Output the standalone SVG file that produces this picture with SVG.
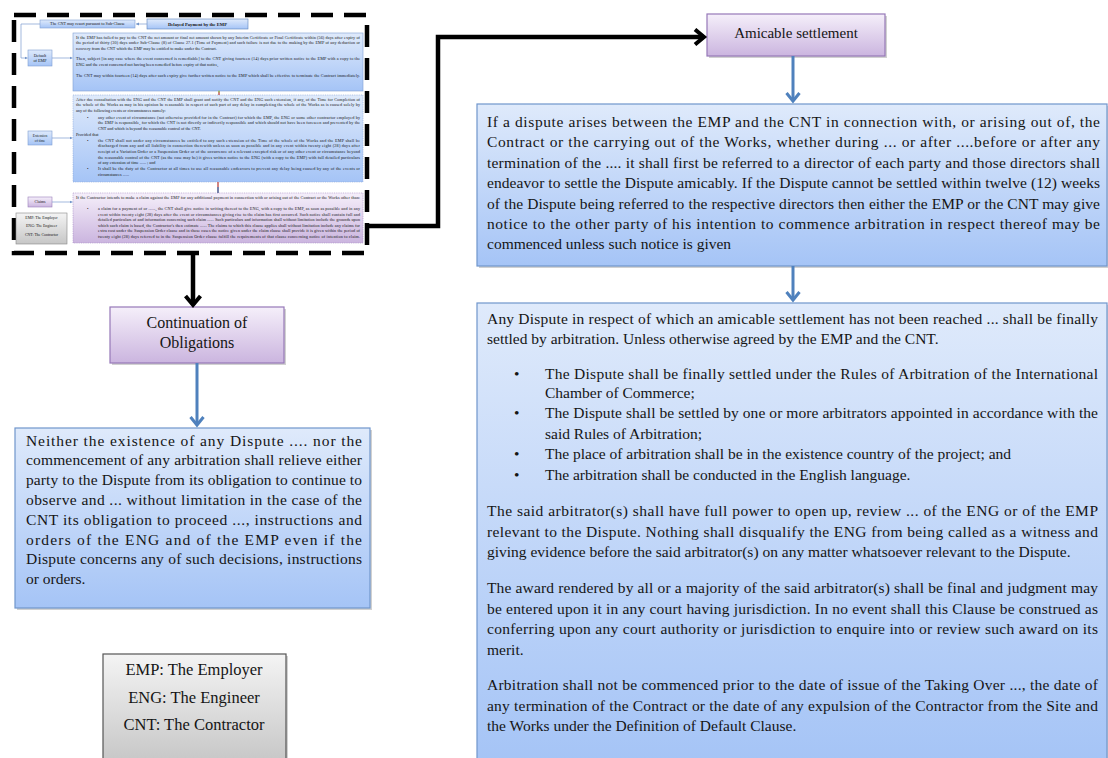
<svg xmlns="http://www.w3.org/2000/svg" width="1108" height="758" viewBox="0 0 1108 758" font-family="'Liberation Serif', 'Times New Roman', 'DejaVu Serif', serif">
<style>
.t{fill:#151515}
.m{font-size:15.5px}
.s{font-size:4.2px}
.c{text-anchor:middle}
.bb{fill:url(#gb);stroke:#7096cc;stroke-width:1.2}
.pb{fill:url(#gp);stroke:#9678b8;stroke-width:1.2}
.bbs{fill:url(#gb);stroke:#7f9fd2;stroke-width:0.6}
.bbd{fill:url(#gb);stroke:#8aa6d6;stroke-width:0.6;stroke-dasharray:1 0.8}
.pbd{fill:url(#gp);stroke:#a58ac4;stroke-width:0.6;stroke-dasharray:1 0.8}
.pbs{fill:url(#gp);stroke:#9a7fbb;stroke-width:0.6}
.gy{fill:url(#gg);stroke:#555;stroke-width:1.2}
.sh{fill:#000;opacity:0.18}
.kl{fill:none;stroke:#000;stroke-width:4.5}
.bl{fill:none;stroke:#4f81bd;stroke-width:3}
.tl{fill:none;stroke:#7b9bd0;stroke-width:0.7}
</style>
<defs>
<linearGradient id="gb" x1="0" y1="0" x2="0" y2="1"><stop offset="0" stop-color="#dfeafb"/><stop offset="1" stop-color="#a5c4f6"/></linearGradient>
<linearGradient id="gp" x1="0" y1="0" x2="0" y2="1"><stop offset="0" stop-color="#f5effa"/><stop offset="1" stop-color="#cbb5df"/></linearGradient>
<linearGradient id="gg" x1="0" y1="0" x2="0" y2="1"><stop offset="0" stop-color="#f4f4f4"/><stop offset="1" stop-color="#c6c6c6"/></linearGradient>
<marker id="ak" markerWidth="16" markerHeight="18" refX="12" refY="9" orient="auto" markerUnits="userSpaceOnUse"><path d="M3,1.5 L12,9 L3,16.5" fill="none" stroke="#000" stroke-width="4"/></marker>
<marker id="ablu" markerWidth="16" markerHeight="16" refX="12" refY="8" orient="auto" markerUnits="userSpaceOnUse"><path d="M4,1.5 L12,8 L4,14.5" fill="none" stroke="#4f81bd" stroke-width="3"/></marker>
<marker id="at" markerWidth="4" markerHeight="4" refX="3" refY="2" orient="auto" markerUnits="userSpaceOnUse"><path d="M0,0.5 L3,2 L0,3.5 Z" fill="#6f93c9"/></marker>
</defs>

<g id="thumb-frame">
<rect x="14" y="15" width="353" height="238" fill="none" stroke="#000" stroke-width="4.5" stroke-dasharray="22 11"/>
</g>

<g id="t-resort">
<rect class="bbs" x="40" y="20" width="95" height="8"/>
<text class="t s c" x="87.5" y="25.4">The CNT may resort pursuant to Sub-Clause</text>
</g>
<g id="t-delayed">
<rect class="bbs" x="147" y="19" width="101" height="10" style="stroke:#5d82bd"/>
<text class="t c" x="197.5" y="25.6" style="font-size:4.6px;font-weight:bold">Delayed Payment by the EMP</text>
</g>
<g id="t-default">
<rect class="bbs" x="28" y="50" width="24" height="16"/>
<text class="t s c" x="40" y="57">Default</text>
<text class="t s c" x="40" y="62">of EMP</text>
</g>
<g id="t-box1">
<rect class="bbs" x="73" y="33" width="290" height="58"/>
<g class="t s">
<text x="76" y="38.5" textLength="284" lengthAdjust="spacing">If the EMP has failed to pay to the CNT the net amount or final net amount shown by any Interim Certificate or Final Certificate within (56) days after expiry of</text>
<text x="76" y="44" textLength="284" lengthAdjust="spacing">the period of thirty (30) days under Sub-Clause (8) of Clause 27.1 (Time of Payment) and such failure is not due to the making by the EMP of any deduction or</text>
<text x="76" y="49.5">recovery from the CNT which the EMP may be entitled to make under the Contract.</text>
<text x="76" y="60" textLength="284" lengthAdjust="spacing">Then, subject [in any case where the event concerned is remediable] to the CNT giving fourteen (14) days prior written notice to the EMP with a copy to the</text>
<text x="76" y="65.5">ENG and the event concerned not having been remedied before expiry of that notice,</text>
<text x="76" y="76.5" textLength="284" lengthAdjust="spacing">The CNT may within fourteen (14) days after such expiry give further written notice to the EMP which shall be effective to terminate the Contract immediately.</text>
</g>
</g>
<g id="t-extension">
<rect class="bbs" x="28" y="131" width="24" height="14"/>
<text class="t c" x="40" y="137" style="font-size:3.6px">Extension</text>
<text class="t c" x="40" y="141.5" style="font-size:3.6px">of time</text>
</g>
<g id="t-box2">
<rect class="bbd" x="73" y="95" width="290" height="87"/>
<g class="t s">
<text x="76" y="100.5" textLength="284" lengthAdjust="spacing">After due consultation with the ENG and the CNT the EMP shall grant and notify the CNT and the ENG such extension, if any, of the Time for Completion of</text>
<text x="76" y="106.3" textLength="284" lengthAdjust="spacing">the whole of the Works as may in his opinion be reasonable in respect of such part of any delay in completing the whole of the Works as is caused solely by</text>
<text x="76" y="112.1">any of the following events or circumstances namely:</text>
<text x="87" y="118.5">•</text>
<text x="98" y="118.5" textLength="262" lengthAdjust="spacing">any other event of circumstance (not otherwise provided for in the Contract) for which the EMP, the ENG or some other contractor employed by</text>
<text x="98" y="124.2" textLength="262" lengthAdjust="spacing">the EMP is responsible, for which the CNT is not directly or indirectly responsible and which should not have been foreseen and prevented by the</text>
<text x="98" y="129.9">CNT and which is beyond the reasonable control of the CNT.</text>
<text x="76" y="135.8">Provided that</text>
<text x="87" y="141.8">•</text>
<text x="98" y="141.8" textLength="262" lengthAdjust="spacing">the CNT shall not under any circumstances be entitled to any such extension of the Time of the whole of the Works and the EMP shall be</text>
<text x="98" y="147.4" textLength="262" lengthAdjust="spacing">discharged from any and all liability in connection therewith unless as soon as possible and in any event within twenty eight (28) days after</text>
<text x="98" y="153" textLength="262" lengthAdjust="spacing">receipt of a Variation Order or a Suspension Order or of the occurrence of a relevant excepted risk or of any other event or circumstance beyond</text>
<text x="98" y="158.6" textLength="262" lengthAdjust="spacing">the reasonable control of the CNT (as the case may be) it gives written notice to the ENG (with a copy to the EMP) with full detailed particulars</text>
<text x="98" y="164.2">of any extension of time ...... ; and</text>
<text x="87" y="170">•</text>
<text x="98" y="170" textLength="262" lengthAdjust="spacing">It shall be the duty of the Contractor at all times to use all reasonable endeavors to prevent any delay being caused by any of the events or</text>
<text x="98" y="175.6">circumstances ......</text>
</g>
</g>
<g id="t-claims">
<rect class="pbs" x="28" y="197" width="24" height="10"/>
<text class="t c" x="40" y="203.3" style="font-size:3.8px">Claims</text>
</g>
<g id="t-box3">
<rect class="pbd" x="73" y="193" width="290" height="50"/>
<g class="t s">
<text x="76" y="199.2" textLength="284" lengthAdjust="spacing">If the Contractor intends to make a claim against the EMP for any additional payment in connection with or arising out of the Contract or the Works other than:</text>
<text x="87" y="210.2">•</text>
<text x="98" y="210.2" textLength="262" lengthAdjust="spacing">a claim for a payment of or ......, the CNT shall give notice in writing thereof to the ENG, with a copy to the EMP, as soon as possible and in any</text>
<text x="98" y="215.7" textLength="262" lengthAdjust="spacing">event within twenty eight (28) days after the event or circumstances giving rise to the claim has first occurred. Such notice shall contain full and</text>
<text x="98" y="221.2" textLength="262" lengthAdjust="spacing">detailed particulars of and information concerning such claim ...... Such particulars and information shall without limitation include the grounds upon</text>
<text x="98" y="226.7" textLength="262" lengthAdjust="spacing">which such claim is based, the Contractor's then estimate ...... The claims to which this clause applies shall without limitation include any claims for</text>
<text x="98" y="232.2" textLength="262" lengthAdjust="spacing">extra cost under the Suspension Order clause and in those cases the notice given under the claim clause shall provide it is given within the period of</text>
<text x="98" y="237.7" textLength="262" lengthAdjust="spacing">twenty eight (28) days referred to in the Suspension Order clause fulfill the requirements of that clause concerning notice of intention to claim.</text>
</g>
</g>
<g id="t-legend">
<rect x="16" y="213" width="51" height="31" fill="url(#gg)" stroke="#888" stroke-width="0.6"/>
<text class="t c" x="41.5" y="218.8" style="font-size:3.9px">EMP: The Employer</text>
<text class="t c" x="41.5" y="227.2" style="font-size:3.9px">ENG: The Engineer</text>
<text class="t c" x="41.5" y="235.6" style="font-size:3.9px">CNT: The Contractor</text>
</g>

<g id="amicable">
<rect class="sh" x="709" y="16" width="178" height="42"/>
<rect class="pb" x="707" y="14" width="178" height="42"/>
<text class="t c" x="796" y="38" style="font-size:15px">Amicable settlement</text>
</g>

<g id="amicable-text">
<rect class="sh" x="479" y="106" width="630" height="162"/>
<rect class="bb" x="477" y="104" width="630" height="162"/>
<g class="t m">
<text x="487" y="127" textLength="613" lengthAdjust="spacing">If a dispute arises between the EMP and the CNT in connection with, or arising out of, the</text>
<text x="487" y="147.4" textLength="613" lengthAdjust="spacing">Contract or the carrying out of the Works, whether during ... or after ....before or after any</text>
<text x="487" y="167.8" textLength="613" lengthAdjust="spacing">termination of the .... it shall first be referred to a director of each party and those directors shall</text>
<text x="487" y="188.2" textLength="613" lengthAdjust="spacing">endeavor to settle the Dispute amicably. If the Dispute cannot be settled within twelve (12) weeks</text>
<text x="487" y="208.6" textLength="613" lengthAdjust="spacing">of the Dispute being referred to the respective directors then either the EMP or the CNT may give</text>
<text x="487" y="229" textLength="613" lengthAdjust="spacing">notice to the other party of his intention to commence arbitration in respect thereof may be</text>
<text x="487" y="249.4">commenced unless such notice is given</text>
</g>
</g>

<g id="arbitration-text">
<rect class="sh" x="479" y="305" width="630" height="460"/>
<rect class="bb" x="477" y="303" width="630" height="460"/>
<g class="t m">
<text x="487" y="323.5" textLength="611" lengthAdjust="spacing">Any Dispute in respect of which an amicable settlement has not been reached ... shall be finally</text>
<text x="487" y="343.5">settled by arbitration. Unless otherwise agreed by the EMP and the CNT.</text>
<text x="514" y="378.5">•</text>
<text x="545" y="378.5" textLength="553" lengthAdjust="spacing">The Dispute shall be finally settled under the Rules of Arbitration of the International</text>
<text x="545" y="397.5">Chamber of Commerce;</text>
<text x="514" y="418">•</text>
<text x="545" y="418" textLength="553" lengthAdjust="spacing">The Dispute shall be settled by one or more arbitrators appointed in accordance with the</text>
<text x="545" y="438.5">said Rules of Arbitration;</text>
<text x="514" y="459">•</text>
<text x="545" y="459">The place of arbitration shall be in the existence country of the project; and</text>
<text x="514" y="479.5">•</text>
<text x="545" y="479.5">The arbitration shall be conducted in the English language.</text>
<text x="487" y="516" textLength="611" lengthAdjust="spacing">The said arbitrator(s) shall have full power to open up, review ... of the ENG or of the EMP</text>
<text x="487" y="536.5" textLength="611" lengthAdjust="spacing">relevant to the Dispute. Nothing shall disqualify the ENG from being called as a witness and</text>
<text x="487" y="557">giving evidence before the said arbitrator(s) on any matter whatsoever relevant to the Dispute.</text>
<text x="487" y="593" textLength="611" lengthAdjust="spacing">The award rendered by all or a majority of the said arbitrator(s) shall be final and judgment may</text>
<text x="487" y="613.5" textLength="611" lengthAdjust="spacing">be entered upon it in any court having jurisdiction. In no event shall this Clause be construed as</text>
<text x="487" y="634" textLength="611" lengthAdjust="spacing">conferring upon any court authority or jurisdiction to enquire into or review such award on its</text>
<text x="487" y="654.5">merit.</text>
<text x="487" y="690" textLength="611" lengthAdjust="spacing">Arbitration shall not be commenced prior to the date of issue of the Taking Over ..., the date of</text>
<text x="487" y="710.5" textLength="611" lengthAdjust="spacing">any termination of the Contract or the date of any expulsion of the Contractor from the Site and</text>
<text x="487" y="731">the Works under the Definition of Default Clause.</text>
</g>
</g>

<g id="continuation">
<rect class="sh" x="112" y="309" width="174" height="56"/>
<rect class="pb" x="110" y="307" width="174" height="56"/>
<text class="t c" x="197" y="328" style="font-size:16px">Continuation of</text>
<text class="t c" x="197" y="347.5" style="font-size:16px">Obligations</text>
</g>

<g id="continuation-text">
<rect class="sh" x="17" y="430" width="355" height="180"/>
<rect class="bb" x="15" y="428" width="355" height="180"/>
<g class="t m">
<text x="26" y="445.5" textLength="336" lengthAdjust="spacing">Neither the existence of any Dispute .... nor the</text>
<text x="26" y="465.3" textLength="336" lengthAdjust="spacing">commencement of any arbitration shall relieve either</text>
<text x="26" y="485.1" textLength="336" lengthAdjust="spacing">party to the Dispute from its obligation to continue to</text>
<text x="26" y="504.9" textLength="336" lengthAdjust="spacing">observe and ... without limitation in the case of the</text>
<text x="26" y="524.7" textLength="336" lengthAdjust="spacing">CNT its obligation to proceed ..., instructions and</text>
<text x="26" y="544.5" textLength="336" lengthAdjust="spacing">orders of the ENG and of the EMP even if the</text>
<text x="26" y="564.3" textLength="336" lengthAdjust="spacing">Dispute concerns any of such decisions, instructions</text>
<text x="26" y="584.1">or orders.</text>
</g>
</g>

<g id="legend">
<rect class="sh" x="105" y="656" width="183" height="110"/>
<rect class="gy" x="103" y="654" width="183" height="110"/>
<text class="t c" x="194" y="675" style="font-size:16.5px">EMP: The Employer</text>
<text class="t c" x="194" y="702.5" style="font-size:16.5px">ENG: The Engineer</text>
<text class="t c" x="194" y="730" style="font-size:16.5px">CNT: The Contractor</text>
</g>

<g id="connectors">
<path class="tl" d="M147,24 L136,24" marker-end="url(#at)"/>
<path class="tl" d="M40,24 L21,24 L21,58 L27.5,58" marker-end="url(#at)"/>
<path class="tl" d="M52,58 L72.5,58" marker-end="url(#at)"/>
<path class="tl" d="M52,138 L72.5,138" marker-end="url(#at)"/>
<path class="tl" d="M52,202 L72.5,202" marker-end="url(#at)"/>
<path d="M219,91.5 L219,95" stroke="#c0504d" stroke-width="1.4"/>
<circle cx="219" cy="91.5" r="0.9" fill="#9bbb59"/>
<path d="M218,182 L218,193" stroke="#c0504d" stroke-width="1.4"/>
<path d="M218,187 L218,193" stroke="#4f81bd" stroke-width="1.4"/>
<path class="kl" d="M367,226 L438,226 L438,37 L704,37" marker-end="url(#ak)"/>
<path class="kl" d="M193,253 L193,305" marker-end="url(#ak)"/>
<path class="bl" d="M793,56 L793,101" marker-end="url(#ablu)"/>
<path class="bl" d="M793,266 L793,300" marker-end="url(#ablu)"/>
<path class="bl" d="M197,363 L197,425" marker-end="url(#ablu)"/>
</g>
</svg>
